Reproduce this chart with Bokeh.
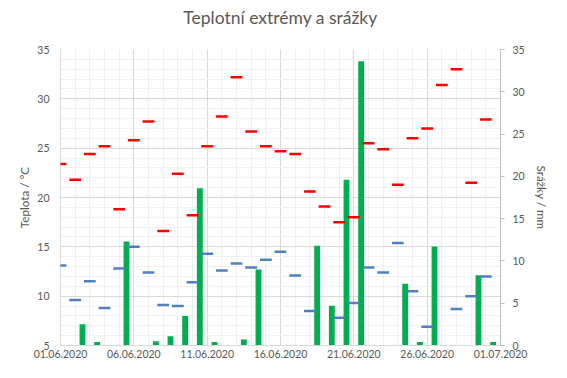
import pandas as pd
import numpy as np
from bokeh.plotting import figure
from bokeh.models import (Range1d, LinearAxis, FixedTicker, DatetimeTickFormatter,
                          ColumnDataSource, Arrow, Title)
from bokeh.embed import file_html
from bokeh.resources import INLINE

# ---- data ----
days = pd.date_range("2020-06-01", "2020-06-30", freq="D")
tmax = [23.4, 21.8, 24.4, 25.2, 18.8, 25.8, 27.7, 16.6, 22.4, 18.2,
        25.2, 28.2, 32.2, 26.7, 25.2, 24.7, 24.4, 20.6, 19.1, 17.5,
        18.0, 25.5, 24.9, 21.3, 26.0, 27.0, 31.4, 33.0, 21.5, 27.9]
tmin = [13.1, 9.6, 11.5, 8.8, 12.8, 15.0, 12.4, 9.1, 9.0, 11.4,
        14.3, 12.6, 13.3, 12.9, 13.7, 14.5, 12.1, 8.5, np.nan, 7.8,
        9.3, 12.9, 12.4, 15.4, 10.5, 6.9, np.nan, 8.7, 10.0, 12.0]
precip = [0.0, 2.5, 0.4, 0.0, 12.3, 0.0, 0.5, 1.1, 3.5, 18.6,
          0.4, 0.0, 0.7, 9.0, 0.0, 0.0, 0.0, 11.8, 4.7, 19.6,
          33.6, 0.0, 0.0, 7.3, 0.4, 11.7, 0.0, 0.0, 8.3, 0.4]
tick_labels = ["01.06.2020", "06.06.2020", "11.06.2020", "16.06.2020",
               "21.06.2020", "26.06.2020", "01.07.2020"]
title_text = "Teplotní extrémy a srážky"

DAY = 24 * 3600 * 1000
tick_dates = pd.to_datetime(tick_labels, format="%d.%m.%Y")
major_ms = [int(t.value // 10**6) for t in tick_dates]
minor_ms = [major_ms[0] + i * DAY for i in range(31)]

half = pd.Timedelta(hours=9.6)  # dash half-length (0.4 day)
bar_src = ColumnDataSource(dict(day_mid=days + pd.Timedelta(hours=12), precip=precip))


def dash_source(vals):
    v = np.array(vals, dtype=float)
    ok = ~np.isnan(v)
    d = days[ok]
    return ColumnDataSource(dict(x0=d - half, x1=d + half, y=v[ok]))


FONT = "Lato"
GREY = "#595959"

p = figure(width=551, height=362, x_axis_type="datetime",
           x_range=Range1d(tick_dates[0], tick_dates[-1]),
           y_range=Range1d(5, 35),
           output_backend="svg", toolbar_location=None,
           min_border_left=60, min_border_right=44,
           min_border_top=49, min_border_bottom=17)
p.extra_y_ranges = {"precip": Range1d(0, 35)}

# main title (outer slot)
p.title.text = title_text
p.title.align = "center"
p.title.text_font = FONT
p.title.text_font_size = "17.5px"
p.title.text_font_style = "normal"
p.title.text_color = GREY
p.title.standoff = 4
# invisible spacer between title and plot area
p.add_layout(Title(text=" ", text_font_size="1px", standoff=17), "above")

p.outline_line_color = None

# bars (precipitation)
p.vbar(x="day_mid", top="precip", width=0.4 * DAY, source=bar_src,
       y_range_name="precip", fill_color="#00B050", line_color=None)

# temperature dashes
for vals, col in ((tmax, "#FF0000"), (tmin, "#4F81BD")):
    p.add_layout(Arrow(x_start="x0", y_start="y", x_end="x1", y_end="y",
                       source=dash_source(vals), start=None, end=None,
                       line_color=col, line_width=2.5, line_cap="butt"))

# x axis
xa = p.xaxis[0]
xa.ticker = FixedTicker(ticks=major_ms, minor_ticks=minor_ms)
fmt = "%d.%m.%Y"
xa.formatter = DatetimeTickFormatter(days=fmt, months=fmt, years=fmt, hours=fmt,
                                     minutes=fmt, seconds=fmt, milliseconds=fmt,
                                     microseconds=fmt)
# left axis
ya = p.yaxis[0]
ya.ticker = FixedTicker(ticks=list(range(5, 36, 5)), minor_ticks=list(range(5, 36, 1)))
ya.axis_label = "Teplota / °C"

# right axis
ra = LinearAxis(y_range_name="precip", axis_label="Srážky / mm",
                ticker=FixedTicker(ticks=list(range(0, 36, 5))))
p.add_layout(ra, "right")

for ax in (xa, ya, ra):
    ax.major_label_text_font = FONT
    ax.major_label_text_font_size = "10.5px"
    ax.major_label_text_color = GREY
    ax.axis_label_text_font = FONT
    ax.axis_label_text_font_size = "11.7px"
    ax.axis_label_text_font_style = "normal"
    ax.axis_label_text_color = GREY
    ax.minor_tick_line_color = None
    ax.minor_tick_out = 0
    ax.minor_tick_in = 0
    ax.major_tick_line_color = None
    ax.major_tick_out = 0
    ax.major_tick_in = 0

xa.axis_line_color = "#d9d9d9"
xa.major_label_standoff = 4
ya.axis_line_color = "#d9d9d9"
ya.major_label_standoff = 11
ya.axis_label_standoff = 3
ra.axis_line_color = "#bfbfbf"
ra.major_tick_line_color = "#bfbfbf"
ra.major_tick_out = 4
ra.major_label_standoff = 8
ra.axis_label_standoff = 7

p.xgrid.grid_line_color = "#d9d9d9"
p.xgrid.minor_grid_line_color = "#f0f0f0"
p.ygrid.grid_line_color = "#d9d9d9"
p.ygrid.minor_grid_line_color = "#f0f0f0"

open("out.html", "w").write(file_html(p, INLINE))
